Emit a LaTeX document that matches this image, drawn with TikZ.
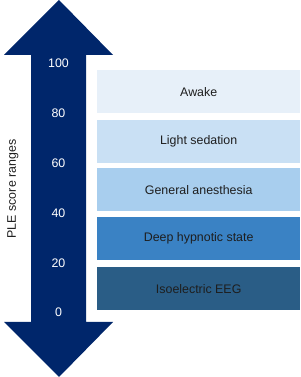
\documentclass[tikz,border=0pt]{standalone}
\usepackage{fontspec}
\setmainfont{Liberation Sans}
\usepackage{xcolor}
\definecolor{arrownavy}{HTML}{00266B}
\definecolor{stageA}{HTML}{E7F0F9}
\definecolor{stageB}{HTML}{C9E0F4}
\definecolor{stageC}{HTML}{A8CEEE}
\definecolor{stageD}{HTML}{3A82C4}
\definecolor{stageE}{HTML}{2A5D86}
\definecolor{stagetext}{HTML}{1E1E1E}
\begin{document}
\begin{tikzpicture}[x=1pt,y=1pt,font=\fontsize{12.4}{14}\selectfont,
  stagebox/.style={minimum width=203pt,minimum height=43pt,inner sep=0pt,anchor=north west,text=stagetext},
  score/.style={text=white,inner sep=0pt}]
\useasboundingbox (0,0) rectangle (300,377);
\fill[arrownavy] (59,377) -- (4,322) -- (31,322) -- (31,55) -- (4,55) -- (59,0)
  -- (113,55) -- (86,55) -- (86,322) -- (113,322) -- cycle;
\node[score] (s100) at (58.5,314) {100};
\node[score] (s80) at (58.5,264) {80};
\node[score] (s60) at (58.5,214) {60};
\node[score] (s40) at (58.5,164) {40};
\node[score] (s20) at (58.5,114) {20};
\node[score] (s0) at (58.5,65) {0};
\node[rotate=90,text=stagetext] (axis) at (13,188) {PLE score ranges};
\node[stagebox,fill=stageA] (awake) at (97,307) {Awake};
\node[stagebox,fill=stageB] (light) at (97,257.5) {Light sedation};
\node[stagebox,fill=stageC] (general) at (97,209) {General anesthesia};
\node[stagebox,fill=stageD] (deep) at (97,160) {Deep hypnotic state};
\node[stagebox,fill=stageE] (iso) at (97,110) {Isoelectric EEG};
\end{tikzpicture}
\end{document}
